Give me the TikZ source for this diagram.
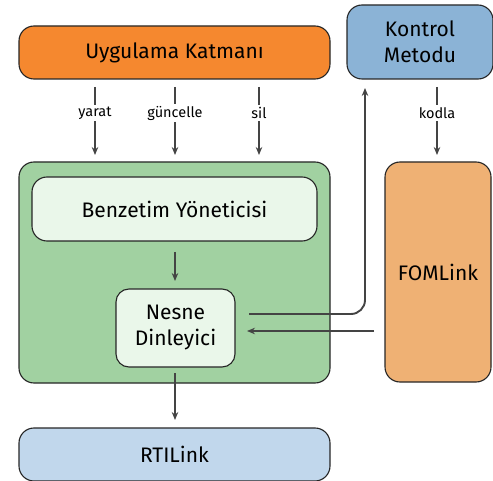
\documentclass[tikz,border=0pt]{standalone}
\usepackage{fontspec}
\setmainfont{Fira Sans}
\usetikzlibrary{arrows.meta}
\definecolor{cOrange}{HTML}{F5882F}
\definecolor{cBlueA}{HTML}{8BB3D6}
\definecolor{cGreen}{HTML}{A1D1A1}
\definecolor{cLightG}{HTML}{EAF7EA}
\definecolor{cBlueL}{HTML}{C1D7EC}
\definecolor{cPeach}{HTML}{EFB174}
\definecolor{cLine}{HTML}{444444}
\tikzset{
  box/.style={draw=black!85, line width=1.1pt, rounded corners=15pt, inner sep=0pt, align=center, font=\fontsize{21}{26}\selectfont},
  conn/.style={draw=cLine, line width=1.9pt, -{Stealth[length=8pt,width=6.5pt]}},
  lbl/.style={fill=white, inner sep=2pt, font=\fontsize{14.5}{17}\selectfont}
}
\begin{document}
\begin{tikzpicture}[x=1pt,y=-1pt]
\useasboundingbox (0,0) rectangle (493,481);
\node[box, fill=cOrange, minimum width=311pt, minimum height=53pt] (uyg) at (174.5,52.5) {Uygulama Katmanı};
\node[box, fill=cBlueA, minimum width=146pt, minimum height=74pt] (kon) at (420,42) {Kontrol\\Metodu};
\node[box, fill=cGreen, minimum width=311pt, minimum height=221pt] (grn) at (174.5,272.5) {};
\node[box, fill=cLightG, minimum width=285pt, minimum height=64pt] (ben) at (174.5,209) {Benzetim Yöneticisi};
\node[box, fill=cLightG, minimum width=119pt, minimum height=78pt, rounded corners=13pt] (nes) at (175.5,328) {Nesne\\Dinleyici};
\node[box, fill=cBlueL, minimum width=311pt, minimum height=53pt] (rti) at (174.5,454.5) {RTILink};
\node[box, fill=cPeach, minimum width=106pt, minimum height=220pt] (fom) at (438,272) {FOMLink};
% labeled arrows
\foreach \l/\x in {l1/95,l2/175,l3/259,l4/437}{
  \coordinate (s\l) at (\x,87);
  \coordinate (e\l) at (\x,155);
  \draw[conn] (s\l) -- (e\l);
}
\node[lbl] (l1) at (95,113) {yarat};
\node[lbl] (l2) at (175,113) {güncelle};
\node[lbl] (l3) at (259,113) {sil};
\node[lbl] (l4) at (437,113) {kodla};
% inner arrows
\coordinate (a1) at (175,252);
\coordinate (a2) at (175,281);
\draw[conn] (a1) -- (a2);
\coordinate (b1) at (175,373);
\coordinate (b2) at (175,420);
\draw[conn] (b1) -- (b2);
% to Kontrol
\coordinate (c1) at (249,314);
\coordinate (c2) at (365,88);
\draw[conn, rounded corners=14pt] (c1) -- (c2 |- c1) -- (c2);
% from FOMLink
\coordinate (d1) at (374,331);
\coordinate (d2) at (247,331);
\draw[conn] (d1) -- (d2);
\end{tikzpicture}
\end{document}
